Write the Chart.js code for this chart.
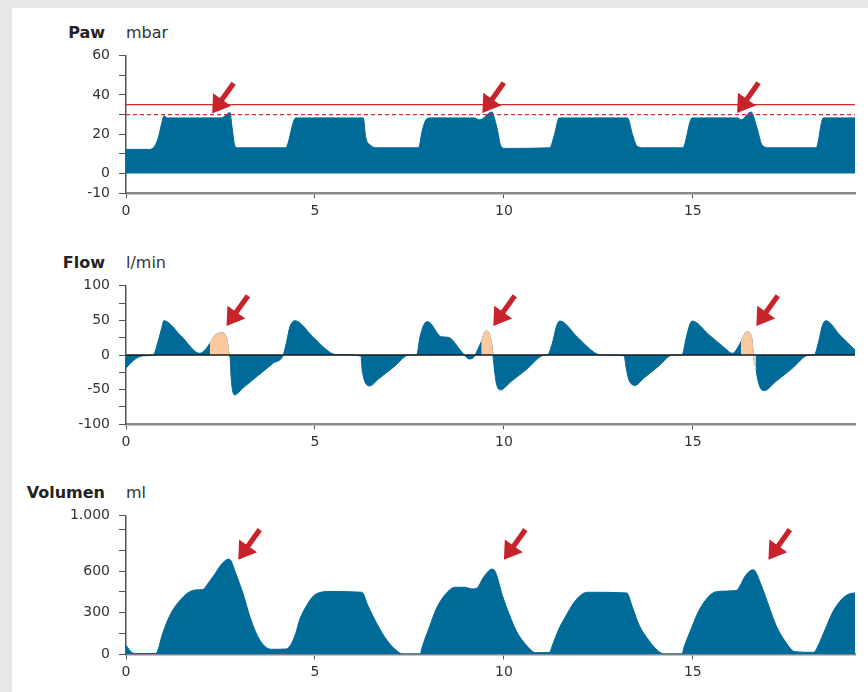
<!DOCTYPE html>
<html>
<head>
<meta charset="utf-8">
<script src="https://cdn.jsdelivr.net/npm/chart.js@4.4.1/dist/chart.umd.min.js"></script>
<style>
    html, body { margin: 0; padding: 0; background: #e6e7e9; }
    #page { position: relative; width: 868px; height: 692px; overflow: hidden; }
    #panel { position: absolute; left: 12px; top: 8px; right: 0; bottom: 0; background: #fff; }
    canvas { position: absolute; left: 0; }
    .title { position: absolute; left: 0; width: 105px; text-align: right; font: bold 16px "DejaVu Sans"; line-height: 16px; color: #222; }
    .unit { position: absolute; left: 126px; font: 16px "DejaVu Sans"; line-height: 16px; color: #333; }
</style>
</head>
<body>
<div id="page">
    <div id="panel"></div>
    <div class="title" style="top:25px">Paw</div>
    <div class="unit" style="top:25px">mbar</div>
    <div class="title" style="top:255px">Flow</div>
    <div class="unit" style="top:255px">l/min</div>
    <div class="title" style="top:485px">Volumen</div>
    <div class="unit" style="top:485px">ml</div>
    <canvas id="pawChart" width="868" height="231" style="top:0px"></canvas>
    <canvas id="flowChart" width="868" height="231" style="top:231px"></canvas>
    <canvas id="volumeChart" width="868" height="230" style="top:462px"></canvas>
</div>
<script>
// time axis (s)

var xTicks = [0, 5, 10, 15];
var xMax = 19.29;

// Paw (mbar)

var pawTime   = [0, 0.6, 0.72, 0.85, 0.95, 1.0, 1.1, 2.53, 2.6, 2.75, 2.81, 2.88, 2.97, 4.22, 4.49, 6.28, 6.34, 6.47, 6.65, 7.74, 7.84, 7.94, 8.03, 9.21, 9.36, 9.68, 9.78, 9.84, 9.9, 10.02, 11.21, 11.34, 11.46, 13.27, 13.4, 13.52, 13.71, 14.73, 14.98, 16.2, 16.27, 16.54, 16.7, 16.83, 17.02, 18.26, 18.45, 19.29];
var pawValues = [12.3, 12.3, 13, 18, 26, 29.3, 28.3, 28.3, 29, 31, 23, 14, 13.1, 13.1, 28.3, 28.3, 18.8, 14.4, 13.1, 13.1, 22, 27.5, 28.3, 28.3, 27.3, 31.3, 26, 21, 15, 12.8, 13.1, 20, 28.3, 28.3, 20, 14, 13.1, 13.1, 28.3, 28.3, 27.3, 31.3, 23, 14.5, 13.1, 13.1, 28.3, 28.3];
var pawLimitHigh = 35;
var pawLimitLow = 30;
var pawTicks  = [-10, 0, 10, 20, 30, 40, 50, 60];
var pawLabels = ['-10', '0', '', '20', '', '40', '', '60'];
var pawArrowX = [2.28, 9.43, 16.17];
var pawArrowY = [30.6, 30.8, 30.8];

// Flow (l/min)

var flowTime   = [0, 0.16, 0.35, 0.54, 0.72, 0.85, 0.95, 1.0, 1.48, 1.95, 2.1, 2.22, 2.35, 2.53, 2.66, 2.73, 2.76, 2.78, 2.81, 2.87, 3.1, 3.5, 3.9, 4.16, 4.24, 4.34, 4.47, 4.94, 5.41, 5.59, 6.22, 6.24, 6.28, 6.34, 6.44, 6.7, 7.1, 7.49, 7.69, 7.78, 7.9, 7.99, 8.34, 8.53, 8.9, 9.09, 9.21, 9.3, 9.4, 9.53, 9.65, 9.71, 9.75, 9.8, 9.9, 10.2, 10.6, 11.09, 11.15, 11.28, 11.4, 11.48, 11.94, 12.4, 12.58, 13.18, 13.23, 13.3, 13.4, 13.46, 13.7, 14.1, 14.46, 14.71, 14.83, 14.93, 14.99, 15.41, 15.83, 16.05, 16.2, 16.27, 16.43, 16.55, 16.6, 16.67, 16.7, 16.79, 16.89, 17.2, 17.6, 18.08, 18.21, 18.33, 18.43, 18.52, 18.9, 19.29];
var flowValues = [-19, -9.6, -2.4, -1, 0, 20, 40, 49.5, 26, 2.4, 8, 17, 28, 32, 25, 0, -7, -31, -48, -57.6, -47.3, -29.4, -11.6, 0, 16.8, 41, 49.5, 26.5, 3.4, 0.5, -1.5, -16.8, -31, -40.8, -44.7, -33.6, -16.6, 0, 0, 26.4, 45.6, 48, 26.4, 25.5, 3.4, -5.8, -2.4, 7.2, 19, 34.6, 24, 0, -21.6, -40.8, -50.4, -37.7, -20.7, 0, 0, 16.8, 43, 49, 26, 3.4, 0, -1, -16.8, -35, -43, -44, -33.4, -15.8, 0, 0, 26.4, 45.6, 49, 30, 10.6, 2.4, 12, 19, 33.2, 26.4, 0, -20, -31, -48, -51.4, -38, -20.7, 0, 0, 20, 43, 49.5, 28, 7.2];
var leakTime   = [2.22, 2.35, 2.53, 2.66, 2.73, 2.8, 9.4, 9.53, 9.65, 9.71, 9.8, 16.27, 16.43, 16.55, 16.6, 16.67];
var leakValues = [17, 28, 32, 25, 0, null, 19, 34.6, 24, 0, null, 19, 33.2, 26.4, 0, -20];
var flowTicks  = [-100, -75, -50, -25, 0, 25, 50, 75, 100];
var flowLabels = ['-100', '', '-50', '', '0', '', '50', '', '100'];
var flowArrowX = [2.66, 9.72, 16.68];
var flowArrowY = [42, 42, 42];

// Volumen (ml)

var volumeTime   = [0, 0.16, 0.29, 0.79, 0.97, 1.1, 1.29, 1.47, 1.66, 1.85, 2.03, 2.16, 2.35, 2.53, 2.72, 2.78, 2.91, 3.1, 3.28, 3.47, 3.66, 3.85, 4.22, 4.34, 4.49, 4.59, 4.78, 4.97, 5.16, 5.34, 6.24, 6.4, 6.59, 6.84, 7.09, 7.34, 7.78, 7.84, 8.03, 8.21, 8.46, 8.71, 8.96, 9.15, 9.28, 9.46, 9.69, 9.78, 9.96, 10.15, 10.34, 10.59, 10.84, 11.21, 11.27, 11.46, 11.65, 11.83, 12.02, 12.21, 13.25, 13.4, 13.58, 13.83, 14.08, 14.27, 14.71, 14.77, 14.96, 15.14, 15.33, 15.52, 15.71, 16.14, 16.2, 16.39, 16.58, 16.64, 16.83, 17.02, 17.2, 17.45, 17.7, 18.2, 18.3, 18.51, 18.7, 18.95, 19.14, 19.29];
var volumeValues = [65, 12, 5, 5, 150, 245, 340, 400, 447, 464, 466, 507, 578, 650, 686, 673, 578, 435, 269, 138, 60, 36, 38, 60, 150, 245, 352, 423, 447, 452, 447, 352, 245, 126, 43, 0, 0, 55, 197, 328, 435, 483, 483, 471, 476, 555, 614, 590, 423, 281, 162, 67, 12, 14, 55, 186, 281, 364, 423, 447, 442, 340, 209, 102, 24, 0, 0, 55, 186, 304, 388, 440, 454, 459, 471, 566, 609, 602, 483, 340, 209, 90, 19, 14, 55, 186, 304, 400, 435, 442];
var volumeTicks  = [0, 150, 300, 450, 600, 750, 900, 1000];
var volumeLabels = ['0', '', '300', '', '600', '', '', '1.000'];
var volumeArrowX = [2.97, 10.0, 17.0];
var volumeArrowY = [681, 681, 681];

// styles

var blue = '#006a99';
var peach = '#fbc9a0';
var red = '#c8232b';

Chart.defaults.font.family = '"DejaVu Sans"';
Chart.defaults.font.size = 14;
Chart.defaults.color = '#333';

// utilities

function toPoints(xs, ys)
{
    return xs.map(function(x, i) { return { x: x, y: ys[i] }; });
}

function drawArrow(ctx, tx, ty)
{
    // arrow points down-left onto (tx, ty)
    var ux = 0.58, uy = -0.815;
    var nx = 0.815, ny = 0.58;
    var len = 37, headLen = 17, headHalf = 11, shaftHalf = 2.6;
    var bx = tx + ux * headLen, by = ty + uy * headLen;
    var ex = tx + ux * len, ey = ty + uy * len;

    ctx.beginPath();
    ctx.moveTo(tx, ty);
    ctx.lineTo(bx + nx * headHalf, by + ny * headHalf);
    ctx.lineTo(bx - nx * headHalf, by - ny * headHalf);
    ctx.closePath();
    ctx.fill();

    ctx.beginPath();
    ctx.moveTo(bx + nx * shaftHalf - ux, by + ny * shaftHalf - uy);
    ctx.lineTo(ex + nx * shaftHalf, ey + ny * shaftHalf);
    ctx.lineTo(ex - nx * shaftHalf, ey - ny * shaftHalf);
    ctx.lineTo(bx - nx * shaftHalf - ux, by - ny * shaftHalf - uy);
    ctx.closePath();
    ctx.fill();
}

var arrowPlugin = {
    id: 'arrowMarks',
    afterDatasetsDraw: function(chart, args, opts)
    {
        var ctx = chart.ctx;
        ctx.save();
        ctx.fillStyle = red;
        for (var i = 0; i < opts.tipX.length; i++)
        {
            var px = chart.scales.x.getPixelForValue(opts.tipX[i]);
            var py = chart.scales.y.getPixelForValue(opts.tipY[i]);
            drawArrow(ctx, px, py);
        }
        ctx.restore();
    }
};

function makeChart(canvasId, yTicks, yLabels, datasets, arrowX, arrowY, padTop)
{
    var ctx = document.getElementById(canvasId).getContext('2d');
    return new Chart(ctx, {
        type: 'line',
        data: { datasets: datasets },
        options: {
            responsive: false,
            animation: false,
            devicePixelRatio: 1,
            layout: { padding: { top: padTop, right: 13, bottom: 1.7, left: 0 } },
            plugins: {
                legend: { display: false },
                tooltip: { enabled: false },
                arrowMarks: { tipX: arrowX, tipY: arrowY }
            },
            elements: {
                point: { radius: 0, hoverRadius: 0 },
                line: { cubicInterpolationMode: 'monotone' }
            },
            scales: {
                x: {
                    type: 'linear',
                    min: 0,
                    max: xMax,
                    afterBuildTicks: function(scale) { scale.ticks = xTicks.map(function(v) { return { value: v }; }); },
                    afterFit: function(scale) { scale.height = 36; },
                    grid: { drawOnChartArea: false, drawTicks: true, tickLength: 5, color: '#555', lineWidth: 1 },
                    border: { display: true, color: '#8a8a8a', width: 2.5 },
                    ticks: { padding: 5, maxRotation: 0, autoSkip: false }
                },
                y: {
                    type: 'linear',
                    min: yTicks[0],
                    max: yTicks[yTicks.length - 1],
                    afterBuildTicks: function(scale) { scale.ticks = yTicks.map(function(v) { return { value: v }; }); },
                    afterFit: function(scale) { scale.width = 126; },
                    grid: { drawOnChartArea: false, drawTicks: true, tickLength: 7, color: '#555', lineWidth: 1 },
                    border: { display: true, color: '#555', width: 1.5 },
                    ticks: {
                        padding: 9,
                        autoSkip: false,
                        callback: function(value, index) { return yLabels[index]; }
                    }
                }
            }
        },
        plugins: [arrowPlugin]
    });
}

function lineAt(value, color, dash, order)
{
    return {
        data: [{ x: 0, y: value }, { x: xMax, y: value }],
        borderColor: color,
        borderWidth: 1.3,
        borderDash: dash,
        fill: false,
        order: order
    };
}

// set up

makeChart('pawChart', pawTicks, pawLabels, [
    {
        data: toPoints(pawTime, pawValues),
        borderColor: blue,
        borderWidth: 1,
        backgroundColor: blue,
        fill: 'origin',
        order: 2
    },
    lineAt(pawLimitHigh, '#d42b2f', [], 0),
    lineAt(pawLimitLow, '#d42b2f', [4, 3], 0)
], pawArrowX, pawArrowY, 55.5);

makeChart('flowChart', flowTicks, flowLabels, [
    {
        data: toPoints(flowTime, flowValues),
        borderColor: blue,
        borderWidth: 1,
        backgroundColor: blue,
        fill: 'origin',
        order: 2
    },
    {
        data: toPoints(leakTime, leakValues),
        borderColor: peach,
        borderWidth: 1,
        backgroundColor: peach,
        fill: 'origin',
        spanGaps: false,
        order: 1
    },
    lineAt(0, '#1a1a1a', [], 0)
], flowArrowX, flowArrowY, 54.7);

makeChart('volumeChart', volumeTicks, volumeLabels, [
    {
        data: toPoints(volumeTime, volumeValues),
        borderColor: blue,
        borderWidth: 1,
        backgroundColor: blue,
        fill: 'origin',
        order: 2
    }
], volumeArrowX, volumeArrowY, 53.5);
</script>
</body>
</html>
